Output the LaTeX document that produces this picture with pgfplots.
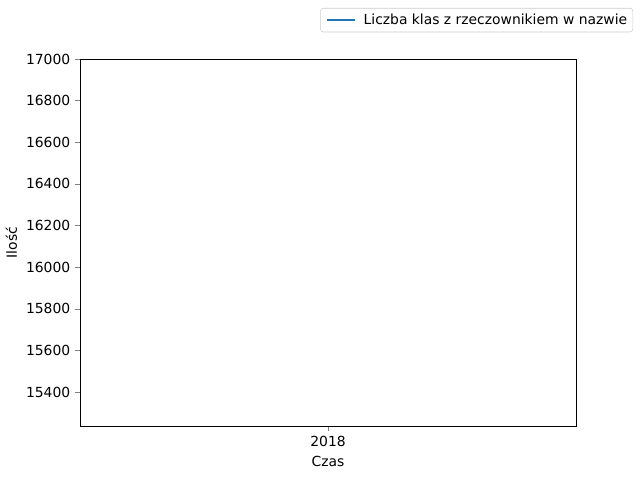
\documentclass[border=0pt]{standalone}
\usepackage{fontspec}
\setmainfont{DejaVu Sans}
\usepackage{pgfplots}
\pgfplotsset{compat=1.18}
\definecolor{mplblue}{HTML}{1F77B4}
\begin{document}
\begin{tikzpicture}
\useasboundingbox (0,0) rectangle (460.8pt,345.6pt);
\begin{axis}[
  at={(57.6pt,38.88pt)}, anchor=south west,
  scale only axis, width=357.12pt, height=264.24pt,
  xmin=-0.055, xmax=0.055,
  ymin=15237, ymax=17000,
  xtick={0}, xticklabels={2018},
  ytick={15400,15600,15800,16000,16200,16400,16600,16800,17000},
  scaled ticks=false,
  yticklabel style={/pgf/number format/fixed, /pgf/number format/precision=0},
  /pgf/number format/assume math mode=true,
  /pgf/number format/set thousands separator={},
  tick pos=left, tick align=outside,
  major tick length=3.5pt,
  tick label style={font=\fontsize{10}{12}\selectfont},
  label style={font=\fontsize{10}{12}\selectfont},
  xlabel={Czas}, ylabel={Ilość},
  xlabel style={at={(0.5,-0.068)}, anchor=north},
  ylabel style={at={(-0.117,0.5)}, anchor=south},
  legend style={at={(1.115,1.139)}, anchor=north east, font=\fontsize{10}{12}\selectfont, draw=black!20, rounded corners=2pt, inner sep=2pt},
  legend image code/.code={\path (-6pt,0pt) (20pt,0pt); \draw[#1] (-4pt,0pt) -- (16pt,0pt);},
  legend cell align=left,
]
\addplot[mplblue, line width=1.05pt, no marks] coordinates {(0,16118)};
\addlegendentry{Liczba klas z rzeczownikiem w nazwie}
\end{axis}
\end{tikzpicture}
\end{document}
